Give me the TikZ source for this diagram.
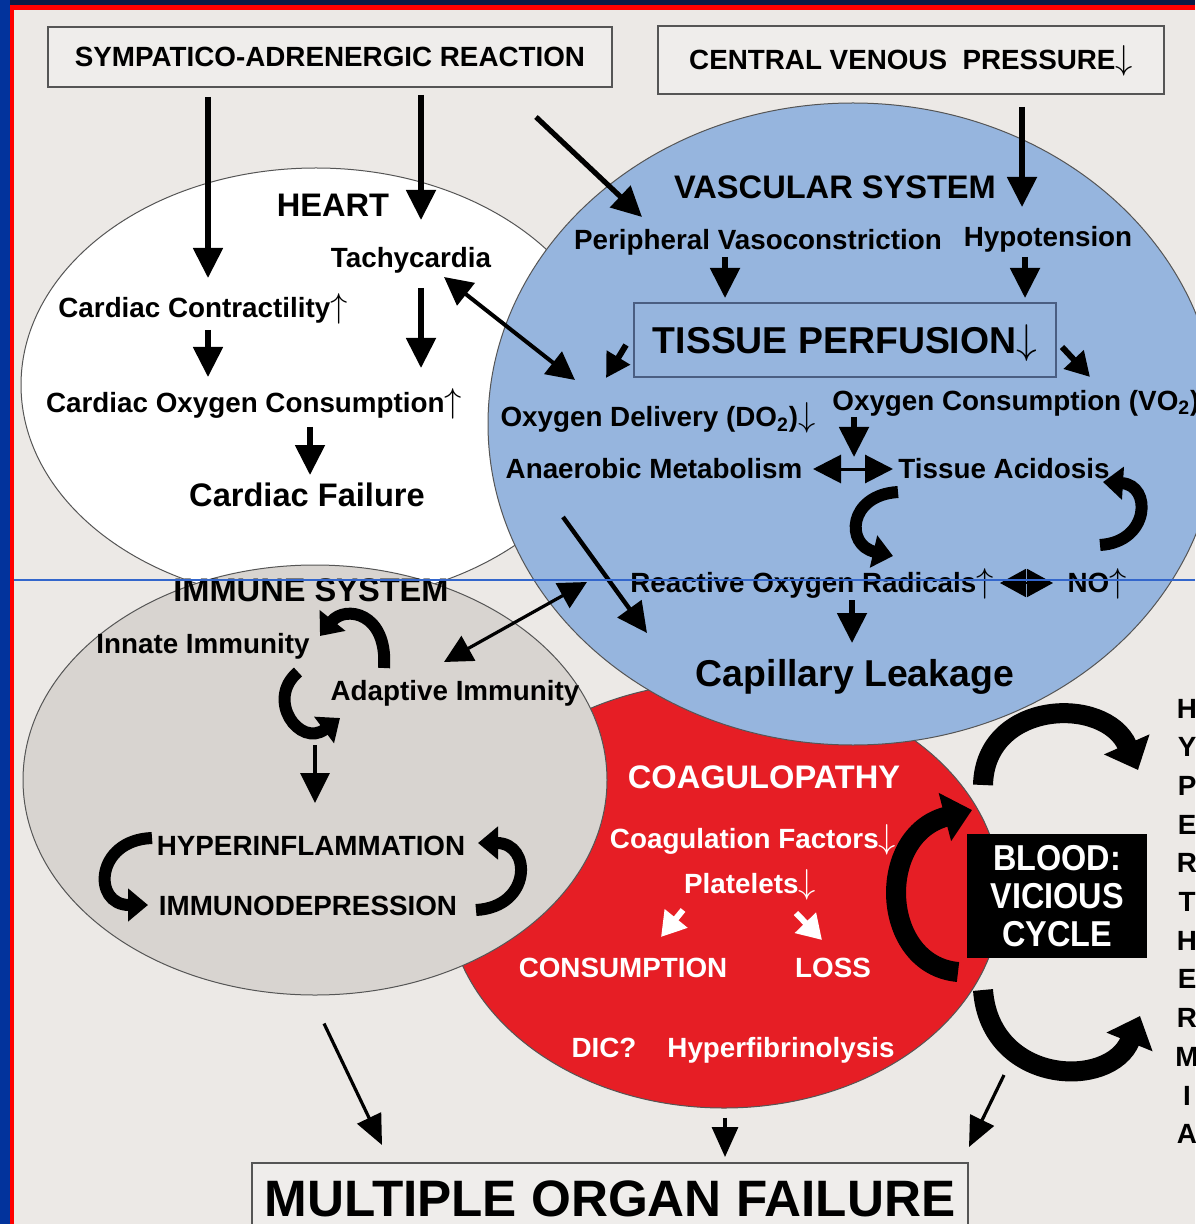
\documentclass[tikz,border=0pt]{standalone}
\usepackage{fontspec}
\setmainfont{Liberation Sans}
\newfontfamily\narrowsans[FakeStretch=0.9]{Liberation Sans}
\usetikzlibrary{arrows.meta, shapes.geometric, calc}

\definecolor{pagebg}{HTML}{ECE9E6}
\definecolor{boxbg}{HTML}{EFEDEB}
\definecolor{vascblue}{HTML}{96B5DE}
\definecolor{immgrey}{HTML}{D8D4D0}
\definecolor{coagred}{HTML}{E61E25}
\definecolor{framenavy}{HTML}{0A1A45}
\definecolor{frameblue}{HTML}{02339C}
\definecolor{framered}{HTML}{FF0000}
\definecolor{edge}{HTML}{555555}
\definecolor{tpedge}{HTML}{4A5E82}
\definecolor{scanline}{HTML}{3366CC}

\newcommand{\upar}[1][16]{{\fontsize{#1}{#1}\selectfont$\uparrow$}}
\newcommand{\dnar}[1][16]{{\fontsize{#1}{#1}\selectfont$\downarrow$}}

\begin{document}
\begin{tikzpicture}[x=0.5pt, y=-0.5pt,
  lbl/.style={font=\bfseries\fontsize{13.9}{16}\selectfont, inner sep=0pt, text height=10pt, text depth=0pt},
  ttl/.style={font=\bfseries\fontsize{16.3}{19}\selectfont, inner sep=0pt, text height=11.7pt, text depth=0pt},
  bigl/.style={font=\bfseries\fontsize{18.7}{22}\selectfont, inner sep=0pt, text height=13.4pt, text depth=0pt},
  wlbl/.style={lbl, text=white},
  region/.style={ellipse, draw=edge, line width=0.5pt, inner sep=0pt},
  framebox/.style={draw=edge, line width=0.7pt, fill=boxbg},
  arr/.style={line width=2.6pt, -{Triangle[length=15pt,width=14.5pt]}},
  tarr/.style={line width=1.6pt, -{Triangle[length=15pt,width=13pt]}},
  darr/.style={line width=2pt, {Triangle[length=14pt,width=14pt]}-{Triangle[length=14pt,width=14pt]}},
  stub/.style={line width=3pt, -{Triangle[length=12pt,width=13pt]}},
  warr/.style={line width=3pt, white, -{Triangle[length=12pt,width=14pt]}},
  loopa/.style={line width=6pt, -{Triangle[length=10pt,width=16pt]}},
  loopb/.style={line width=10pt, -{Triangle[length=14pt,width=24pt]}}]

  \useasboundingbox (0,0) rectangle (1195,1224);
  \fill[framenavy] (0,0) rectangle (1195,5);
  \fill[frameblue] (0,0) rectangle (9.5,1224);
  \fill[framered] (9.5,5) rectangle (1195,10);
  \fill[framered] (9.5,5) rectangle (14,1224);
  \fill[pagebg] (14,10) rectangle (1195,1224);

  \node[region, fill=white, minimum width=295pt, minimum height=217pt] (heartarea) at (316,385) {};
  \node[region, fill=coagred, minimum width=277pt, minimum height=213pt] (coagarea) at (724,895) {};
  \node[region, fill=immgrey, minimum width=292pt, minimum height=215pt] (immarea) at (315,780) {};
  \node[region, fill=vascblue, minimum width=365pt, minimum height=321pt] (vascarea) at (853,424) {};

  \node[framebox, lbl, minimum width=282pt, minimum height=30pt] (sar) at (330,57) {SYMPATICO-ADRENERGIC REACTION};
  \node[framebox, lbl, minimum width=253pt, minimum height=34pt] (cvp) at (911,60) {CENTRAL VENOUS\ \ PRESSURE\dnar};

  \node[ttl] (heart) at (333,205) {HEART};
  \node[lbl] (tachy) at (411,258) {Tachycardia};
  \node[lbl] (contr) at (203,308) {Cardiac Contractility\upar[19]};
  \node[lbl] (cardo2) at (254,403) {Cardiac Oxygen Consumption\upar[19]};
  \node[ttl] (cfail) at (307,495) {Cardiac Failure};

  \node[ttl] (vasc) at (835,187) {VASCULAR SYSTEM};
  \node[lbl] (periph) at (758,240) {Peripheral Vasoconstriction};
  \node[lbl] (hypo) at (1048,237) {Hypotension};
  \node[bigl, draw=tpedge, line width=0.7pt, minimum width=211pt, minimum height=37pt] (tp) at (845,340) {TISSUE PERFUSION\dnar[22]};
  \node[lbl] (odel) at (658,417) {Oxygen Delivery (DO\textsubscript{2})\dnar[17]};
  \node[lbl, anchor=west] (ocons) at (832,400) {Oxygen Consumption (VO\textsubscript{2})};
  \node[lbl] (anaer) at (654,468) {Anaerobic Metabolism};
  \node[lbl] (acid) at (1004,468) {Tissue Acidosis};
  \node[lbl] (ror) at (812,582) {Reactive Oxygen Radicals\upar[19]};
  \node[lbl] (nitric) at (1097,582) {NO\upar[19]};
  \node[bigl] (capl) at (855,673) {Capillary Leakage};

  \node[ttl] (immune) at (311,590) {IMMUNE SYSTEM};
  \node[lbl] (innate) at (203,643) {Innate Immunity};
  \node[lbl] (adapt) at (455,690) {Adaptive Immunity};
  \node[lbl] (hyper) at (311,845) {HYPERINFLAMMATION};
  \node[lbl] (immdep) at (308,905) {IMMUNODEPRESSION};

  \node[ttl, text=white] (coag) at (764,777) {COAGULOPATHY};
  \node[wlbl] (cfact) at (753,838) {Coagulation Factors\dnar[18]};
  \node[wlbl] (plat) at (750,883) {Platelets\dnar[18]};
  \node[wlbl] (consum) at (623,967) {CONSUMPTION};
  \node[wlbl] (loss) at (833,967) {LOSS};
  \node[wlbl] (dic) at (604,1047) {DIC?};
  \node[wlbl] (hfib) at (781,1047) {Hyperfibrinolysis};

  \node[fill=black, text=white, font=\narrowsans\bfseries\fontsize{18}{19}\selectfont, align=center,
        minimum width=90pt, minimum height=62pt, inner sep=0pt] (blood) at (1057,896) {BLOOD:\\VICIOUS\\CYCLE};
  \foreach \ch [count=\k from 0] in {H,Y,P,E,R,T,H,E,R,M,I,A}
    \node[lbl] (hth\k) at (1187,{708+38.7*\k}) {\ch};

  \node[framebox, font=\bfseries\fontsize{25.6}{30}\selectfont, inner sep=0pt, text height=18.3pt, text depth=0pt,
        minimum width=358pt, minimum height=35pt] (mof) at (610,1198) {MULTIPLE ORGAN FAILURE};

  \draw[arr] ($(sar)+(-122,40)$) -- ($(contr)+(5,-30)$);
  \draw[arr] ($(sar)+(91,38)$) -- ($(tachy)+(10,-38)$);
  \draw[arr] ($(sar)+(206,60)$) -- ($(periph)+(-116,-23)$);
  \draw[arr] ($(cvp)+(111,47)$) -- ($(hypo)+(-26,-30)$);
  \draw[arr] ($(contr)+(5,22)$) -- ($(cardo2)+(-46,-26)$);
  \draw[arr] ($(tachy)+(10,30)$) -- ($(cardo2)+(167,-35)$);
  \draw[arr] ($(cardo2)+(56,24)$) -- ($(cfail)+(3,-20)$);
  \draw[darr] ($(tachy)+(33,19)$) -- ($(odel)+(-83,-37)$);

  \draw[arr] ($(periph)+(-33,17)$) -- ($(tp)+(-120,-42)$);
  \draw[arr] ($(hypo)+(-23,20)$) -- ($(tp)+(180,-42)$);
  \draw[stub] ($(tp)+(-219,5)$) -- ($(odel)+(-52,-39)$);
  \draw[stub] ($(tp)+(217,7)$) -- ($(tp)+(245,37)$);
  \draw[arr] ($(ocons.west)+(22,17)$) -- ($(acid)+(-150,-11)$);
  \draw[line width=1.5pt, {Triangle[length=14pt,width=14pt]}-{Triangle[length=14pt,width=14pt]}]
    ($(anaer)+(159,1)$) -- ($(acid)+(-111,1)$);
  \draw[line width=1pt, {Triangle[length=13pt,width=14pt]}-{Triangle[length=13pt,width=14pt]}]
    ($(ror)+(188,1)$) -- ($(nitric)+(-44,1)$);
  \draw[arr] ($(ror)+(40,18)$) -- ($(capl)+(-3,-30)$);
  \draw[arr, line width=2.2pt] ($(anaer)+(-91,49)$) -- ($(capl)+(-208,-40)$);
  \draw[darr, line width=1.6pt] ($(ror)+(-225,0)$) -- ($(adapt)+(-11,-28)$);

  \coordinate (acidL) at (898,492);   \coordinate (rorT) at (893,556);
  \coordinate (noT) at (1100,545);    \coordinate (acidR) at (1103,482);
  \coordinate (adaptT) at (384,668);  \coordinate (innateR) at (320,636);
  \coordinate (innateB) at (298,672); \coordinate (adaptL) at (340,718);
  \coordinate (hyperL) at (152,838);  \coordinate (immdepL) at (148,905);
  \coordinate (immdepR) at (476,910); \coordinate (hyperR) at (478,843);
  \coordinate (cycB) at (958,972);    \coordinate (cycT) at (972,810);
  \coordinate (archL) at (983,785);   \coordinate (archR) at (1138,770);
  \coordinate (cupL) at (983,990);    \coordinate (cupR) at (1140,1016);

  \draw[loopa] (acidL) .. controls (848,495) and (845,545) .. (rorT);
  \draw[loopa] (noT) .. controls (1150,542) and (1152,485) .. (acidR);
  \draw[loopa] (adaptT) .. controls (388,612) and (345,605) .. (innateR);
  \draw[loopa] (innateB) .. controls (265,700) and (300,748) .. (adaptL);
  \draw[arr, line width=1.6pt] ($(adapt)+(-140,55)$) -- ($(hyper)+(4,-42)$);
  \draw[loopa] (hyperL) .. controls (95,840) and (92,905) .. (immdepL);
  \draw[loopa] (immdepR) .. controls (532,907) and (532,843) .. (hyperR);

  \draw[warr] ($(plat)+(-67,27)$) -- ($(consum)+(38,-30)$);
  \draw[warr] ($(plat)+(46,30)$) -- ($(loss)+(-11,-27)$);

  \draw[loopb] (cycB) .. controls (880,965) and (875,835) .. (cycT);
  \draw[loopb] (archL) .. controls (985,700) and (1105,695) .. (archR);
  \draw[loopb] (cupL) .. controls (990,1085) and (1110,1090) .. (cupR);

  \draw[tarr] ($(immarea.south)+(9,28)$) -- ($(mof)+(-228,-53)$);
  \draw[tarr] ($(coagarea.south)+(1,9)$) -- ($(mof)+(115,-41)$);
  \draw[tarr] ($(blood)+(-53,179)$) -- ($(mof)+(359,-51)$);

  \draw[scanline, line width=0.6pt] (14,580) -- (1195,580);
\end{tikzpicture}
\end{document}
